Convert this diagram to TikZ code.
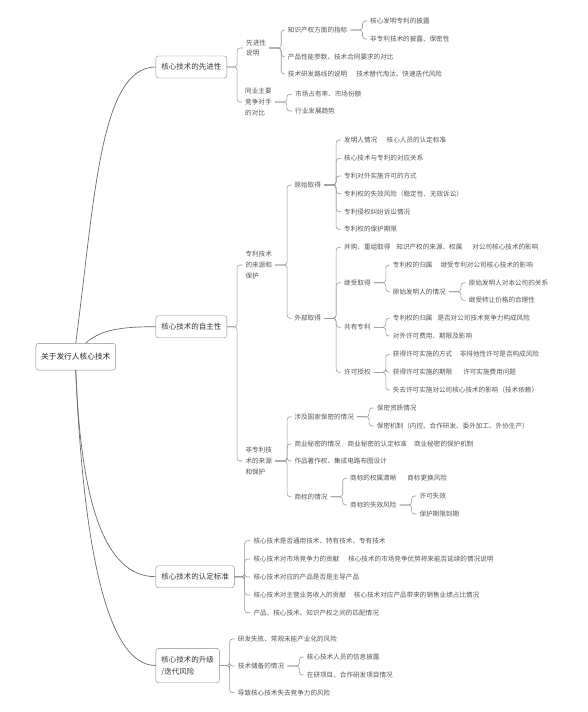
\documentclass[tikz,border=0pt]{standalone}
\usepackage{fontspec}
\setmainfont{Noto Sans CJK SC}
\usepackage{tikz}
\usetikzlibrary{calc}
\usepackage{xcolor}

\definecolor{leafgray}{HTML}{555555}
\definecolor{topicgray}{HTML}{3A3A3A}
\definecolor{boxgray}{HTML}{8A8A8A}
\definecolor{linegray}{HTML}{9A9A9A}
\definecolor{limbgray}{HTML}{6A6A6A}

\tikzset{
  leaf/.style={anchor=west, inner xsep=3pt, inner ysep=1pt, align=left,
    text=leafgray, font=\fontsize{6.6}{10.7}\selectfont},
  topic/.style={anchor=west, draw=boxgray, fill=white, rounded corners=2.5pt,
    inner xsep=5.5pt, minimum height=22pt, align=left, text=topicgray,
    font=\fontsize{7.5}{12}\selectfont},
  twig/.style={draw=linegray, line width=0.6pt, rounded corners=3pt},
  limb/.style={draw=limbgray, line width=0.7pt},
}
% bracket from a parent to its children
\newcommand{\twigs}[3][12]{\foreach \c in {#3}{\draw[twig] (#2.east) -- ++(#1,0) |- (\c.west);}}

\begin{document}
\begin{tikzpicture}[x=1pt,y=-1pt]
    \useasboundingbox (0,0) rectangle (588,712);

    % Root and main topics
    \node[topic, minimum height=26.7pt, inner xsep=5.2pt, text=black!85,
      font=\fontsize{7.7}{12}\selectfont] (root) at (35.7,356.7) {关于发行人核心技术};
    \node[topic] (adv) at (155.7,67) {核心技术的先进性};
    \node[topic] (auto) at (155.7,326.7) {核心技术的自主性};
    \node[topic] (std) at (155.7,576.7) {核心技术的认定标准};
    \node[topic, minimum height=34.4pt] (risk) at (155.7,665.5) {核心技术的升级\\/迭代风险};

    \draw[limb] (root.north) .. controls +(19,-143) and +(-56,0) .. (adv.west);
    \draw[limb] ([xshift=10pt]root.north) .. controls +(14,-13) and +(-36,0) .. (auto.west);
    \draw[limb] (root.south) .. controls +(5,130) and +(-52,0) .. (std.west);
    \draw[limb] (root.south) .. controls +(8,190) and +(-46,0) .. (risk.west);

    % Advancement
    \node[leaf] (advdesc) at (243,48) {先进性\\说明};
    \node[leaf] (advcomp) at (242,102) {同业主要\\竞争对手\\的对比};
    \node[leaf] (ipidx) at (284.7,30) {知识产权方面的指标};
    \node[leaf] (perf) at (284.7,56.7) {产品性能参数、技术合同要求的对比};
    \node[leaf] (route) at (284.7,74) {技术研发路线的说明\hspace{9pt}技术替代淘汰、快速迭代风险};
    \node[leaf] (invdisc) at (367,21) {核心发明专利的披露};
    \node[leaf] (nondisc) at (367,39) {非专利技术的披露、保密性};
    \node[leaf] (share) at (292,94.3) {市场占有率、市场份额};
    \node[leaf] (trend) at (292,111) {行业发展趋势};
    \twigs[10]{adv}{advdesc,advcomp}
    \twigs{advdesc}{ipidx,perf,route}
    \twigs{ipidx}{invdisc,nondisc}
    \twigs{advcomp}{share,trend}

    % Autonomy: patents
    \node[leaf] (pat) at (242.3,265) {专利技术\\的来源和\\保护};
    \node[leaf] (orig) at (291.3,185) {原始取得};
    \node[leaf] (ext) at (291.3,318.3) {外部取得};
    \node[leaf] (o1) at (341,140) {发明人情况\hspace{9.5pt}核心人员的认定标准};
    \node[leaf] (o2) at (341,158.3) {核心技术与专利的对应关系};
    \node[leaf] (o3) at (341,176) {专利对外实施许可的方式};
    \node[leaf] (o4) at (341,193.7) {专利权的失效风险（稳定性、无效诉讼）};
    \node[leaf] (o5) at (341,211.7) {专利侵权纠纷诉讼情况};
    \node[leaf] (o6) at (341,229.3) {专利权的保护期限};
    \node[leaf] (merge) at (341,247.3) {并购、重组取得\hspace{6pt}知识产权的来源、权属\hspace{10pt}对公司核心技术的影响};
    \node[leaf] (inherit) at (341,282.7) {继受取得};
    \node[leaf] (joint) at (341,327.3) {共有专利};
    \node[leaf] (license) at (341,372.3) {许可授权};
    \node[leaf] (inhown) at (389.7,265) {专利权的归属\hspace{8pt}继受专利对公司核心技术的影响};
    \node[leaf] (inventor) at (389.7,291.7) {原始发明人的情况};
    \node[leaf] (inv1) at (465.7,282.7) {原始发明人对本公司的关系};
    \node[leaf] (inv2) at (465.7,300.3) {继受转让价格的合理性};
    \node[leaf] (jown) at (389.7,318.3) {专利权的归属\hspace{5pt}是否对公司技术竞争力构成风险};
    \node[leaf] (jfee) at (389.7,336) {对外许可费用、期限及影响};
    \node[leaf] (l1) at (389.7,354.3) {获得许可实施的方式\hspace{7.5pt}非排他性许可是否构成风险};
    \node[leaf] (l2) at (389.7,372.3) {获得许可实施的期限\hspace{11pt}许可实施费用问题};
    \node[leaf] (l3) at (389.7,390) {失去许可实施对公司核心技术的影响（技术依赖）};

    % Autonomy: non-patent
    \node[leaf] (nonpat) at (242.3,461) {非专利技\\术的来源\\和保护};
    \node[leaf] (secret) at (291.3,416.7) {涉及国家保密的情况};
    \node[leaf] (trade) at (291.3,444) {商业秘密的情况\hspace{7pt}商业秘密的认定标准\hspace{7pt}商业秘密的保护机制};
    \node[leaf] (works) at (291.3,461) {作品著作权、集成电路布图设计};
    \node[leaf] (mark) at (291.3,496.7) {商标的情况};
    \node[leaf] (s1) at (373.7,408) {保密资质情况};
    \node[leaf] (s2) at (373.7,426) {保密机制（内控、合作研发、委外加工、外协生产）};
    \node[leaf] (m1) at (347,478.3) {商标的权属清晰\hspace{11pt}商标更换风险};
    \node[leaf] (mfail) at (347,505) {商标的失效风险};
    \node[leaf] (f1) at (416.3,496) {许可失效};
    \node[leaf] (f2) at (416.3,514) {保护期限到期};
    \twigs[10]{auto}{pat,nonpat}
    \twigs{pat}{orig,ext}
    \twigs{orig}{o1,o2,o3,o4,o5,o6}
    \twigs{ext}{merge,inherit,joint,license}
    \twigs{inherit}{inhown,inventor}
    \twigs{inventor}{inv1,inv2}
    \twigs{joint}{jown,jfee}
    \twigs{license}{l1,l2,l3}
    \twigs{nonpat}{secret,trade,works,mark}
    \twigs{secret}{s1,s2}
    \twigs{mark}{m1,mfail}
    \twigs{mfail}{f1,f2}

    % Criteria
    \node[leaf] (c1) at (250.3,540.7) {核心技术是否通用技术、特有技术、专有技术};
    \node[leaf] (c2) at (250.3,559) {核心技术对市场竞争力的贡献\hspace{9pt}核心技术的市场竞争优势将来能否延续的情况说明};
    \node[leaf] (c3) at (250.3,577) {核心技术对应的产品是否是主导产品};
    \node[leaf] (c4) at (250.3,595) {核心技术对主营业务收入的贡献\hspace{8pt}核心技术对应产品带来的销售业绩占比情况};
    \node[leaf] (c5) at (250.3,612.7) {产品、核心技术、知识产权之间的匹配情况};
    \twigs[10]{std}{c1,c2,c3,c4,c5}

    % Upgrade risk
    \node[leaf] (r1) at (234.7,639) {研发失败、常规未能产业化的风险};
    \node[leaf] (r2) at (234.7,666) {技术储备的情况};
    \node[leaf] (r3) at (234.7,692.7) {导致核心技术失去竞争力的风险};
    \node[leaf] (rr1) at (303.7,657) {核心技术人员的信息披露};
    \node[leaf] (rr2) at (303.7,675) {在研项目、合作研发项目情况};
    \twigs[10]{risk}{r1,r2,r3}
    \twigs{r2}{rr1,rr2}
\end{tikzpicture}
\end{document}
